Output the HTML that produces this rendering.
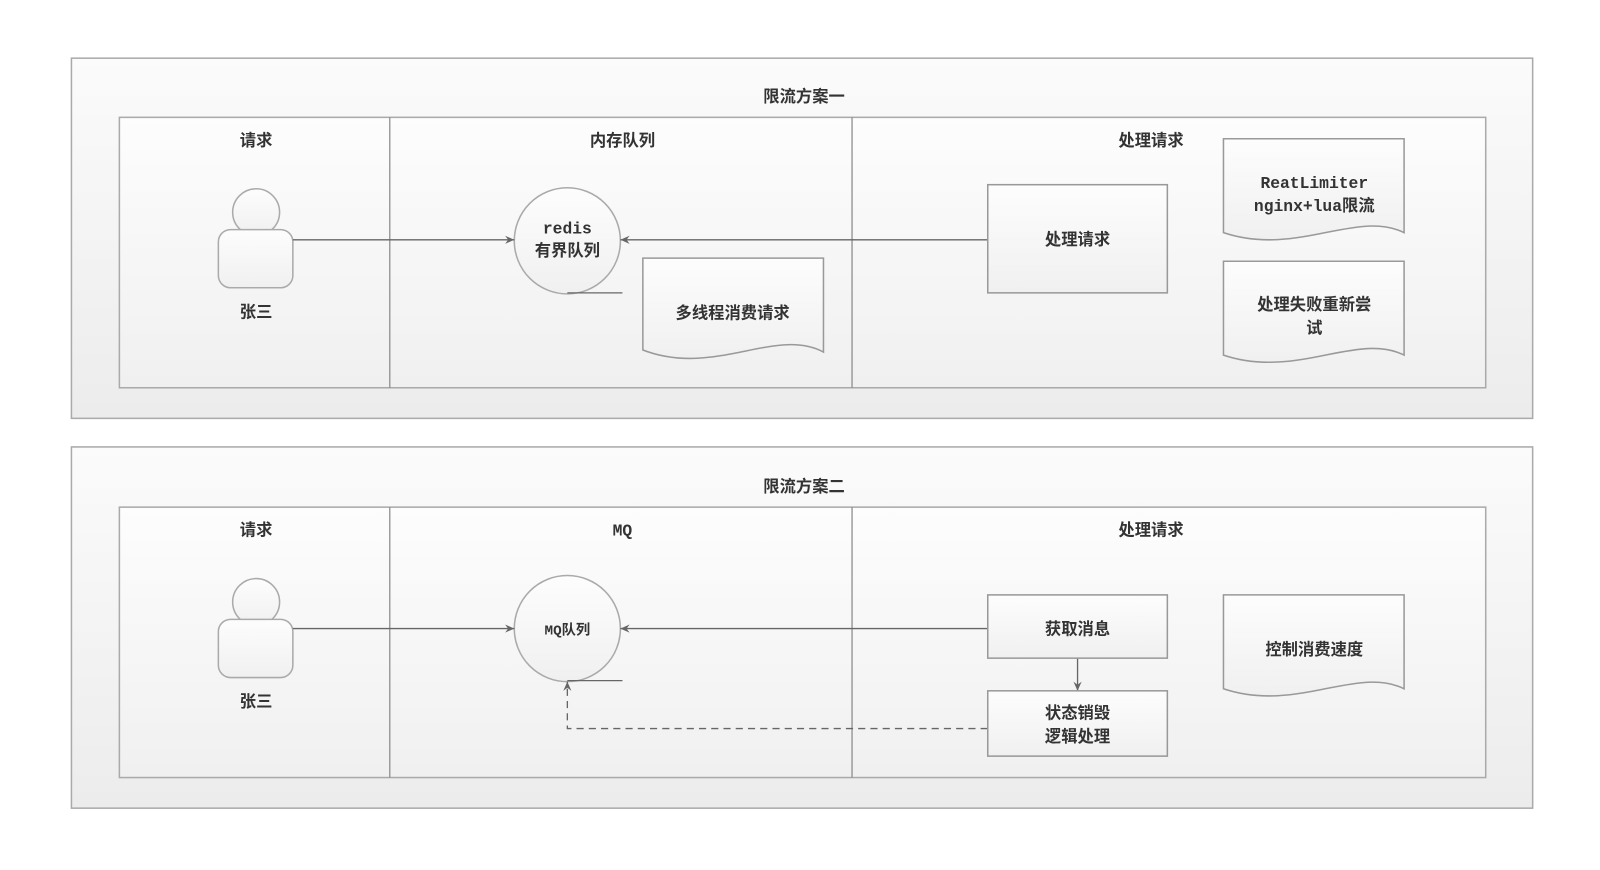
<!DOCTYPE html>
<html><head><meta charset="utf-8"><style>
html,body{margin:0;padding:0;background:#fff;width:1600px;height:870px;overflow:hidden}
svg text{font-family:"Liberation Mono","Noto Sans CJK SC",monospace;fill:#333;font-size:16px;text-anchor:middle;font-weight:bold}
</style></head><body>
<svg width="1600" height="870" viewBox="0 0 1568 852.6" xmlns="http://www.w3.org/2000/svg">
<defs>
<linearGradient id="g" x1="0" y1="0" x2="0" y2="1"><stop offset="0" stop-color="#fbfbfb"/><stop offset="1" stop-color="#ececec"/></linearGradient>
<linearGradient id="b" x1="0" y1="0" x2="0" y2="1"><stop offset="0" stop-color="#fdfdfd"/><stop offset="1" stop-color="#f0f0f0"/></linearGradient>
<marker id="a" markerWidth="10" markerHeight="10" refX="9" refY="5" orient="auto" markerUnits="userSpaceOnUse"><path d="M0,1 L9,5 L0,9 L3,5z" fill="#666"/></marker>
</defs>
<g stroke="#aaa" stroke-width="1.5">
<rect x="70" y="57" width="1432" height="353" fill="url(#g)"/>
<rect x="117" y="115" width="1339" height="265" fill="url(#b)"/>
<rect x="70" y="438" width="1432" height="354" fill="url(#g)"/>
<rect x="117" y="497" width="1339" height="265" fill="url(#b)"/>
</g>
<g stroke="#888" stroke-width="1.2">
<line x1="382" y1="115" x2="382" y2="380"/><line x1="835" y1="115" x2="835" y2="380"/>
<line x1="382" y1="497" x2="382" y2="762"/><line x1="835" y1="497" x2="835" y2="762"/>
</g>
<text x="788" y="100">限流方案一</text>
<text x="251" y="143">请求</text><text x="610" y="143">内存队列</text><text x="1128" y="143">处理请求</text>
<text x="788" y="482">限流方案二</text>
<text x="251" y="525">请求</text><text x="610" y="525">MQ</text><text x="1128" y="525">处理请求</text>
<!-- persons -->
<g fill="url(#b)" stroke="#aaa" stroke-width="1.5">
<circle cx="251" cy="208" r="23"/><rect x="214" y="225" width="73" height="57" rx="12"/>
<circle cx="251" cy="590" r="23"/><rect x="214" y="607" width="73" height="57" rx="12"/>
</g>
<text x="251" y="311">张三</text><text x="251" y="693">张三</text>
<!-- queues -->
<g fill="url(#b)" stroke="#aaa" stroke-width="1.5">
<circle cx="556" cy="236" r="52"/><circle cx="556" cy="616" r="52"/>
</g>
<g stroke="#666" stroke-width="1.3" fill="none">
<line x1="556" y1="287" x2="610" y2="287"/><line x1="556" y1="667" x2="610" y2="667"/>
<line x1="287" y1="235" x2="504" y2="235" marker-end="url(#a)"/>
<line x1="968" y1="235" x2="608" y2="235" marker-end="url(#a)"/>
<line x1="287" y1="616" x2="504" y2="616" marker-end="url(#a)"/>
<line x1="968" y1="616" x2="608" y2="616" marker-end="url(#a)"/>
<line x1="1056" y1="645" x2="1056" y2="677" marker-end="url(#a)"/>
<polyline points="968,714 556,714 556,668" stroke-dasharray="7,5" marker-end="url(#a)"/>
</g>
<text x="556" y="229">redis</text><text x="556" y="251">有界队列</text>
<text x="556" y="622" style="font-size:14px">MQ队列</text>
<!-- boxes -->
<g fill="url(#b)" stroke="#999" stroke-width="1.5">
<rect x="968" y="181" width="176" height="106"/>
<rect x="968" y="583" width="176" height="62"/>
<rect x="968" y="677" width="176" height="64"/>
<path d="M630,253 H807 V345 C760,320 700,370 630,343 Z"/>
<path d="M1199,136 H1376 V228 C1330,205 1270,252 1199,228 Z"/>
<path d="M1199,256 H1376 V348 C1330,325 1270,372 1199,348 Z"/>
<path d="M1199,583 H1376 V675 C1330,652 1270,699 1199,675 Z"/>
</g>
<text x="1056" y="240">处理请求</text>
<text x="1056" y="622">获取消息</text>
<text x="1056" y="704">状态销毁</text><text x="1056" y="727">逻辑处理</text>
<text x="718" y="312">多线程消费请求</text>
<text x="1288" y="184">ReatLimiter</text><text x="1288" y="207">nginx+lua限流</text>
<text x="1288" y="304">处理失败重新尝</text><text x="1288" y="327">试</text>
<text x="1288" y="642">控制消费速度</text>
</svg>
</body></html>
